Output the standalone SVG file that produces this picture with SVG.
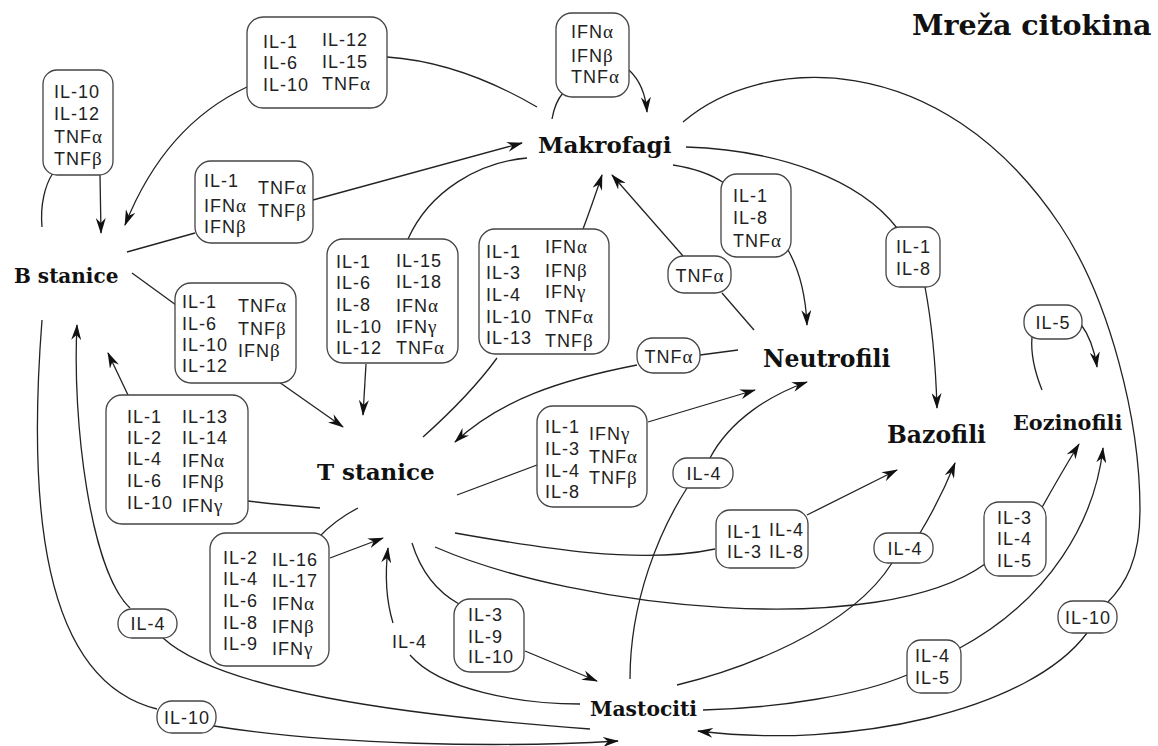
<svg xmlns="http://www.w3.org/2000/svg" width="1158" height="746" viewBox="0 0 1158 746">
<style>
.c{fill:none;stroke:#222;stroke-width:1.3}
.a{marker-end:url(#ah)}
.b{fill:#fff;stroke:#444;stroke-width:1.3}
.t{font-family:"Liberation Sans",Arial,sans-serif;font-size:18px;letter-spacing:1px;fill:#222}
.m{text-anchor:middle}
.g{font-family:"Liberation Serif","Times New Roman",serif;font-size:19px}
.n{font-family:"DejaVu Serif",serif;font-weight:bold;fill:#111}
</style>
<defs>
<marker id="ah" viewBox="0 0 16 10" refX="15" refY="5" markerWidth="16" markerHeight="10" markerUnits="userSpaceOnUse" orient="auto"><path d="M0,0 L16,5 L0,10 L5,5 z" fill="#111"/></marker>
</defs>
<rect width="1158" height="746" fill="#fff"/>
<g id="connectors">
<path class="c" d="M42,227 C40,205 45,185 53,173"/>
<path class="c a" d="M100,175 L101,233"/>
<path class="c" d="M387,57 Q460,62 537,107"/>
<path class="c a" d="M247,87 Q165,125 125,225"/>
<path class="c" d="M127,252 L195,233"/>
<path class="c a" d="M313,200 L522,143"/>
<path class="c" d="M132,273 L176,305"/>
<path class="c a" d="M279,382 L343,427"/>
<path class="c" d="M527,158 C480,162 430,190 408,239"/>
<path class="c a" d="M366,364 L363,415"/>
<path class="c" d="M423,437 Q470,395 497,358"/>
<path class="c a" d="M583,229 Q592,205 602,175"/>
<path class="c" d="M754,330 L722,293"/>
<path class="c a" d="M683,256 L612,175"/>
<path class="c" d="M673,165 Q705,170 724,183"/>
<path class="c a" d="M788,250 Q805,280 807,325"/>
<path class="c" d="M686,147 C780,150 860,180 897,228"/>
<path class="c a" d="M925,287 Q935,340 937,408"/>
<path class="c" d="M683,122 C760,55 940,45 1060,225 C1110,300 1140,420 1140,510 C1140,560 1125,585 1107,603"/>
<path class="c a" d="M1087,633 C1030,710 850,750 698,731"/>
<path class="c" d="M42,320 C28,500 40,680 157,709"/>
<path class="c a" d="M214,726 C330,745 500,748 618,741"/>
<path class="c a" d="M130,608 C90,570 72,420 77,325"/>
<path class="c" d="M590,729 C400,715 220,690 163,638"/>
<path class="c a" d="M128,395 L108,353"/>
<path class="c" d="M320,508 Q280,505 248,501"/>
<path class="c" d="M358,508 Q335,520 318,538"/>
<path class="c a" d="M330,558 L383,538"/>
<path class="c" d="M580,704 C520,704 440,690 410,655"/>
<path class="c a" d="M393,623 Q383,590 388,548"/>
<path class="c" d="M412,543 Q425,585 459,604"/>
<path class="c a" d="M525,651 L597,681"/>
<path class="c" d="M457,495 L537,465"/>
<path class="c a" d="M648,422 L755,390"/>
<path class="c" d="M738,350 L700,355"/>
<path class="c a" d="M637,365 C560,380 500,400 455,442"/>
<path class="c" d="M630,679 C630,600 660,530 687,488"/>
<path class="c a" d="M710,458 C730,420 770,395 807,382"/>
<path class="c" d="M455,533 C540,548 640,565 715,549"/>
<path class="c a" d="M807,515 L897,470"/>
<path class="c" d="M677,685 C740,670 850,630 892,563"/>
<path class="c a" d="M920,533 Q940,500 955,463"/>
<path class="c" d="M435,547 C580,610 880,640 985,564"/>
<path class="c a" d="M1040,511 Q1060,475 1079,444"/>
<path class="c" d="M703,710 C780,708 860,695 907,675"/>
<path class="c a" d="M958,649 C1050,600 1095,520 1103,448"/>
<path class="c" d="M1042,390 Q1030,360 1032,337"/>
<path class="c a" d="M1080,323 Q1093,340 1097,367"/>
<path class="c" d="M552,119 Q555,102 563,93"/>
<path class="c a" d="M629,70 Q645,85 647,112"/>
</g>
<g id="title"><text class="n" x="912" y="35" font-size="28.5">Mreža citokina</text></g>
<g id="makrofagi"><text class="n" x="538" y="153" font-size="23">Makrofagi</text></g>
<g id="b-stanice"><text class="n" x="14" y="283" font-size="20">B stanice</text></g>
<g id="t-stanice"><text class="n" x="317" y="480" font-size="23">T stanice</text></g>
<g id="neutrofili"><text class="n" x="763" y="367" font-size="23.5">Neutrofili</text></g>
<g id="bazofili"><text class="n" x="887" y="443" font-size="23.5">Bazofili</text></g>
<g id="eozinofili"><text class="n" x="1013" y="430" font-size="20.8">Eozinofili</text></g>
<g id="mastociti"><text class="n" x="590" y="716" font-size="20.3">Mastociti</text></g>
<g id="box-a"><rect class="b" x="43" y="70" width="70" height="105" rx="14"/>
<text class="t"><tspan x="54" y="98">IL-10</tspan><tspan x="54" y="120">IL-12</tspan><tspan x="54" y="143">TNF<tspan class="g">α</tspan></tspan><tspan x="54" y="165">TNF<tspan class="g">β</tspan></tspan></text></g>
<g id="box-b"><rect class="b" x="247" y="17" width="140" height="91" rx="16"/>
<text class="t"><tspan x="263" y="48">IL-1</tspan><tspan x="263" y="69">IL-6</tspan><tspan x="263" y="91">IL-10</tspan><tspan x="322" y="46">IL-12</tspan><tspan x="322" y="68">IL-15</tspan><tspan x="322" y="90">TNF<tspan class="g">α</tspan></tspan></text></g>
<g id="box-c"><rect class="b" x="195" y="161" width="118" height="82" rx="16"/>
<text class="t"><tspan x="204" y="187">IL-1</tspan><tspan x="204" y="212">IFN<tspan class="g">α</tspan></tspan><tspan x="204" y="233">IFN<tspan class="g">β</tspan></tspan><tspan x="258" y="194">TNF<tspan class="g">α</tspan></tspan><tspan x="258" y="217">TNF<tspan class="g">β</tspan></tspan></text></g>
<g id="box-d"><rect class="b" x="175" y="283" width="121" height="100" rx="16"/>
<text class="t"><tspan x="182" y="308">IL-1</tspan><tspan x="182" y="330">IL-6</tspan><tspan x="182" y="351">IL-10</tspan><tspan x="182" y="372">IL-12</tspan><tspan x="238" y="312">TNF<tspan class="g">α</tspan></tspan><tspan x="238" y="335">TNF<tspan class="g">β</tspan></tspan><tspan x="238" y="357">IFN<tspan class="g">β</tspan></tspan></text></g>
<g id="box-e"><rect class="b" x="327" y="239" width="131" height="124" rx="16"/>
<text class="t"><tspan x="336" y="268">IL-1</tspan><tspan x="336" y="289">IL-6</tspan><tspan x="336" y="311">IL-8</tspan><tspan x="336" y="333">IL-10</tspan><tspan x="336" y="354">IL-12</tspan><tspan x="396" y="267">IL-15</tspan><tspan x="396" y="288">IL-18</tspan><tspan x="396" y="312">IFN<tspan class="g">α</tspan></tspan><tspan x="396" y="333">IFN<tspan class="g">γ</tspan></tspan><tspan x="396" y="354">TNF<tspan class="g">α</tspan></tspan></text></g>
<g id="box-f"><rect class="b" x="479" y="229" width="130" height="125" rx="16"/>
<text class="t"><tspan x="486" y="258">IL-1</tspan><tspan x="486" y="279">IL-3</tspan><tspan x="486" y="301">IL-4</tspan><tspan x="486" y="323">IL-10</tspan><tspan x="486" y="344">IL-13</tspan><tspan x="545" y="253">IFN<tspan class="g">α</tspan></tspan><tspan x="545" y="277">IFN<tspan class="g">β</tspan></tspan><tspan x="545" y="298">IFN<tspan class="g">γ</tspan></tspan><tspan x="545" y="323">TNF<tspan class="g">α</tspan></tspan><tspan x="545" y="347">TNF<tspan class="g">β</tspan></tspan></text></g>
<g id="box-g"><rect class="b" x="721" y="174" width="70" height="83" rx="16"/>
<text class="t"><tspan x="733" y="202">IL-1</tspan><tspan x="733" y="224">IL-8</tspan><tspan x="733" y="247">TNF<tspan class="g">α</tspan></tspan></text></g>
<g id="box-h"><rect class="b" x="886" y="227" width="54" height="60" rx="14"/>
<text class="t"><tspan x="896" y="253">IL-1</tspan><tspan x="896" y="275">IL-8</tspan></text></g>
<g id="box-i"><rect class="b" x="106" y="395" width="142" height="129" rx="16"/>
<text class="t"><tspan x="127" y="423">IL-1</tspan><tspan x="127" y="444">IL-2</tspan><tspan x="127" y="465">IL-4</tspan><tspan x="127" y="487">IL-6</tspan><tspan x="127" y="509">IL-10</tspan><tspan x="182" y="423">IL-13</tspan><tspan x="182" y="444">IL-14</tspan><tspan x="182" y="467">IFN<tspan class="g">α</tspan></tspan><tspan x="182" y="488">IFN<tspan class="g">β</tspan></tspan><tspan x="182" y="512">IFN<tspan class="g">γ</tspan></tspan></text></g>
<g id="box-j"><rect class="b" x="210" y="533" width="119" height="133" rx="16"/>
<text class="t"><tspan x="223" y="564">IL-2</tspan><tspan x="223" y="585">IL-4</tspan><tspan x="223" y="607">IL-6</tspan><tspan x="223" y="629">IL-8</tspan><tspan x="223" y="650">IL-9</tspan><tspan x="272" y="566">IL-16</tspan><tspan x="272" y="587">IL-17</tspan><tspan x="272" y="610">IFN<tspan class="g">α</tspan></tspan><tspan x="272" y="633">IFN<tspan class="g">β</tspan></tspan><tspan x="272" y="655">IFN<tspan class="g">γ</tspan></tspan></text></g>
<g id="box-k"><rect class="b" x="454" y="599" width="70" height="73" rx="16"/>
<text class="t"><tspan x="468" y="621">IL-3</tspan><tspan x="468" y="643">IL-9</tspan><tspan x="468" y="663">IL-10</tspan></text></g>
<g id="box-l"><rect class="b" x="537" y="406" width="110" height="101" rx="16"/>
<text class="t"><tspan x="545" y="433">IL-1</tspan><tspan x="545" y="455">IL-3</tspan><tspan x="545" y="477">IL-4</tspan><tspan x="545" y="498">IL-8</tspan><tspan x="589" y="440">IFN<tspan class="g">γ</tspan></tspan><tspan x="589" y="463">TNF<tspan class="g">α</tspan></tspan><tspan x="589" y="484">TNF<tspan class="g">β</tspan></tspan></text></g>
<g id="box-m"><rect class="b" x="716" y="510" width="92" height="58" rx="14"/>
<text class="t"><tspan x="727" y="538">IL-1</tspan><tspan x="727" y="558">IL-3</tspan><tspan x="769" y="536">IL-4</tspan><tspan x="769" y="558">IL-8</tspan></text></g>
<g id="box-n"><rect class="b" x="984" y="502" width="62" height="74" rx="15"/>
<text class="t"><tspan x="997" y="524">IL-3</tspan><tspan x="997" y="545">IL-4</tspan><tspan x="997" y="567">IL-5</tspan></text></g>
<g id="box-o"><rect class="b" x="907" y="640" width="54" height="53" rx="14"/>
<text class="t"><tspan x="915" y="662">IL-4</tspan><tspan x="915" y="684">IL-5</tspan></text></g>
<g id="box-p"><rect class="b" x="556" y="13" width="73" height="84" rx="16"/>
<text class="t"><tspan x="571" y="38">IFN<tspan class="g">α</tspan></tspan><tspan x="571" y="62">IFN<tspan class="g">β</tspan></tspan><tspan x="571" y="83">TNF<tspan class="g">α</tspan></tspan></text></g>
<g id="tnfa-1"><rect class="b" x="668" y="256" width="63" height="37" rx="16"/><text class="t m" x="700" y="282">TNF<tspan class="g">α</tspan></text></g>
<g id="tnfa-2"><rect class="b" x="637" y="338" width="63" height="35" rx="16"/><text class="t m" x="669" y="363">TNF<tspan class="g">α</tspan></text></g>
<g id="il4-n"><rect class="b" x="673" y="458" width="60" height="30" rx="14"/><text class="t m" x="704" y="480">IL-4</text></g>
<g id="il4-b"><rect class="b" x="874" y="533" width="59" height="30" rx="14"/><text class="t m" x="905" y="555">IL-4</text></g>
<g id="il10-r"><rect class="b" x="1058" y="601" width="59" height="32" rx="15"/><text class="t m" x="1088" y="624">IL-10</text></g>
<g id="il10-l"><rect class="b" x="157" y="701" width="59" height="32" rx="15"/><text class="t m" x="187" y="724">IL-10</text></g>
<g id="il4-l"><rect class="b" x="118" y="609" width="59" height="29" rx="14"/><text class="t m" x="148" y="630">IL-4</text></g>
<g id="il5"><rect class="b" x="1024" y="305" width="58" height="34" rx="16"/><text class="t m" x="1053" y="329">IL-5</text></g>
<g id="il4-t"><text class="t" x="392" y="648">IL-4</text></g>
</svg>
